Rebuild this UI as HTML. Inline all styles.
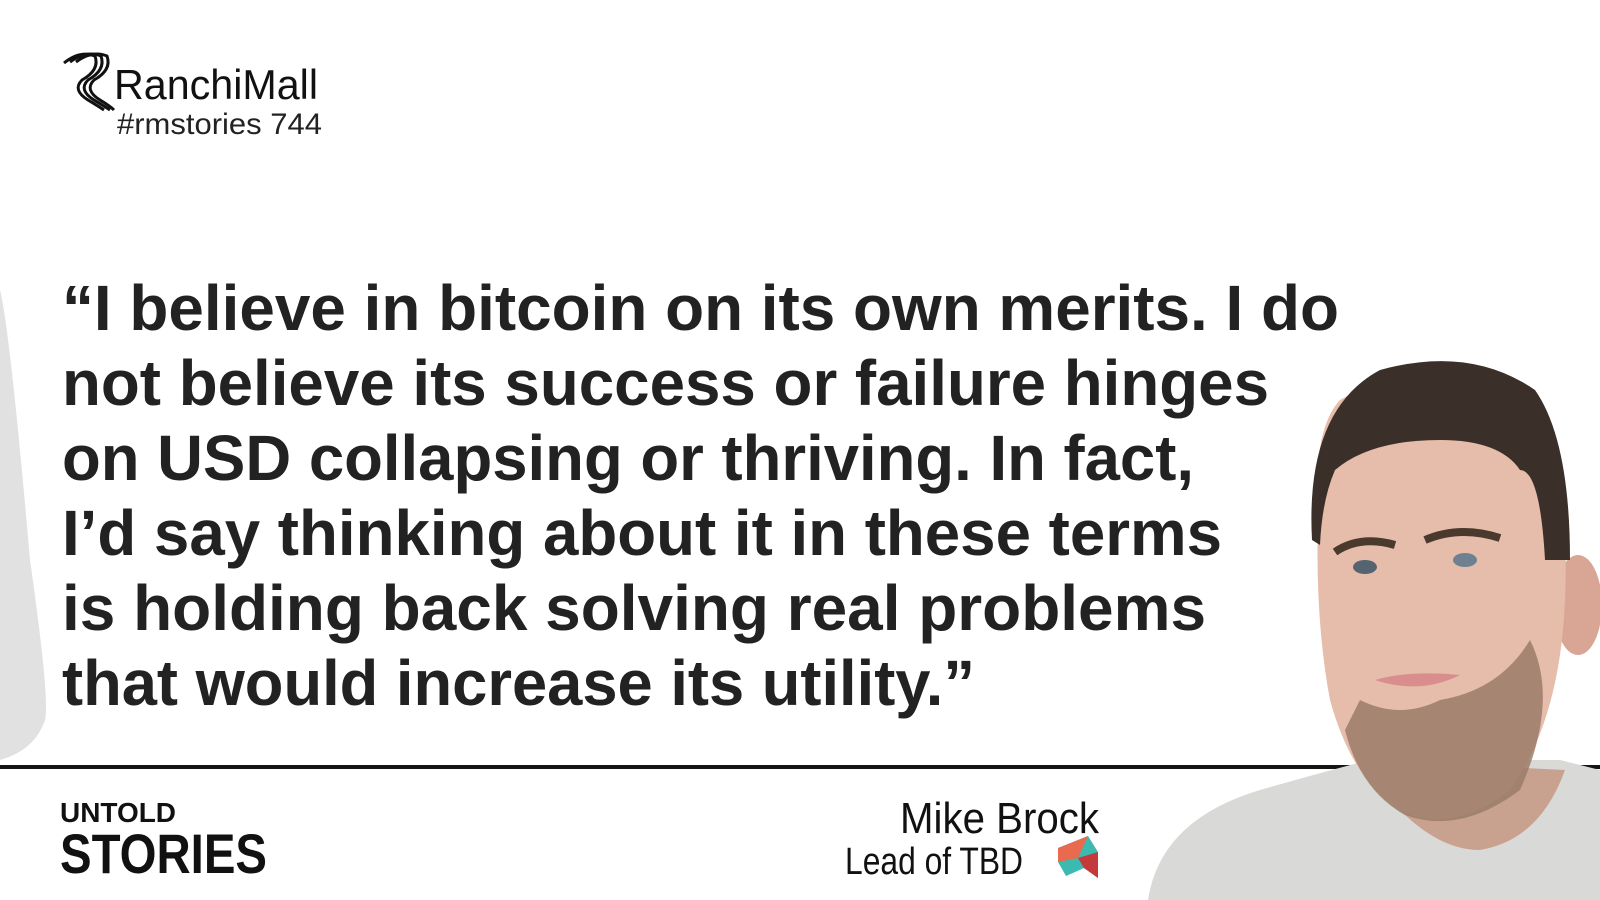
<!DOCTYPE html>
<html><head><meta charset="utf-8"><style>
html,body{margin:0;padding:0;background:#fff;}
svg{display:block;}
</style></head><body>
<svg width="1600" height="900" viewBox="0 0 1600 900" xmlns="http://www.w3.org/2000/svg">
<rect width="1600" height="900" fill="#fff"/>
<path d="M0,290 Q10,330 30,560 Q50,700 45,720 Q35,750 0,760 Z" fill="#e1e1e1"/>
<g>
<g fill="none" stroke="#111" stroke-width="3">
<path d="M64,63 Q80,50 95,56 Q100,70 82,80 Q72,90 88,100 Q98,106 104,110"/>
<path d="M70,62 Q86,50 101,56 Q106,70 88,80 Q78,90 94,100 Q104,106 110,110"/>
<path d="M76,62 Q92,50 107,56 Q112,70 94,80 Q84,90 100,100 Q110,106 114,110"/>
</g>
<text x="114" y="99" font-family="'Liberation Sans',sans-serif" font-size="42" fill="#111" textLength="204" lengthAdjust="spacingAndGlyphs">RanchiMall</text>
<text x="117" y="134" font-family="'Liberation Sans',sans-serif" font-size="30" fill="#222" textLength="205" lengthAdjust="spacingAndGlyphs">#rmstories 744</text>
</g>
<g font-family="'Liberation Sans',sans-serif" font-weight="bold" font-size="64" fill="#222">
<text x="62" y="330" textLength="1277" lengthAdjust="spacingAndGlyphs">“I believe in bitcoin on its own merits. I do</text>
<text x="62" y="405" textLength="1207" lengthAdjust="spacingAndGlyphs">not believe its success or failure hinges</text>
<text x="62" y="480" textLength="1132" lengthAdjust="spacingAndGlyphs">on USD collapsing or thriving. In fact,</text>
<text x="62" y="555" textLength="1160" lengthAdjust="spacingAndGlyphs">I’d say thinking about it in these terms</text>
<text x="62" y="630" textLength="1144" lengthAdjust="spacingAndGlyphs">is holding back solving real problems</text>
<text x="62" y="705" textLength="913" lengthAdjust="spacingAndGlyphs">that would increase its utility.”</text>
</g>
<rect x="0" y="765" width="1600" height="4" fill="#151515"/>
<g>
<path d="M1148,900 Q1160,820 1260,790 Q1330,770 1370,760 L1560,760 L1600,770 L1600,900 Z" fill="#d9dad8"/>
<path d="M1360,760 Q1420,850 1480,850 Q1540,840 1565,770 Z" fill="#c9a18f"/>
<ellipse cx="1578" cy="605" rx="24" ry="50" fill="#d9a594"/>
<path d="M1318,520 Q1312,430 1340,400 Q1440,340 1545,420 Q1570,470 1565,600 Q1560,720 1510,790 Q1460,830 1410,815 Q1355,790 1330,700 Q1315,620 1318,520 Z" fill="#e6bcaa"/>
<path d="M1360,700 Q1400,720 1440,700 Q1500,690 1530,640 Q1560,700 1520,790 Q1460,835 1405,815 Q1360,790 1345,730 Z" fill="#9a7d68" opacity="0.85"/>
<path d="M1312,540 Q1305,410 1380,370 Q1470,345 1535,390 Q1570,440 1570,560 L1545,560 Q1540,470 1520,470 Q1500,440 1440,440 Q1370,440 1335,470 Q1322,500 1320,545 Z" fill="#3a3029"/>
<path d="M1335,552 Q1360,535 1395,545" stroke="#4a3a2e" stroke-width="8" fill="none"/>
<path d="M1425,540 Q1460,525 1500,538" stroke="#4a3a2e" stroke-width="8" fill="none"/>
<ellipse cx="1365" cy="567" rx="12" ry="7" fill="#556470"/>
<ellipse cx="1465" cy="560" rx="12" ry="7" fill="#6d8190"/>
<path d="M1375,680 Q1410,670 1460,675 Q1420,695 1375,680 Z" fill="#d98d8c"/>
</g>
<g font-family="'Liberation Sans',sans-serif" font-weight="bold" fill="#111">
<text x="60" y="822" font-size="28" textLength="116" lengthAdjust="spacingAndGlyphs">UNTOLD</text>
<text x="60" y="873" font-size="56" textLength="207" lengthAdjust="spacingAndGlyphs">STORIES</text>
</g>
<g font-family="'Liberation Sans',sans-serif" fill="#111">
<text x="900" y="833" font-size="44" textLength="199" lengthAdjust="spacingAndGlyphs">Mike Brock</text>
<text x="845" y="874" font-size="38" textLength="178" lengthAdjust="spacingAndGlyphs">Lead of TBD</text>
<g>
<path d="M1058,848 L1088,836 L1098,852 L1098,878 L1084,868 L1066,876 L1058,862 Z" fill="#3cb9b0"/>
<path d="M1058,848 L1088,836 L1078,858 L1058,862 Z" fill="#e86a4f"/>
<path d="M1078,858 L1098,852 L1098,878 L1084,868 Z" fill="#c43a3a"/>
</g>
</g>
</svg>
</body></html>
